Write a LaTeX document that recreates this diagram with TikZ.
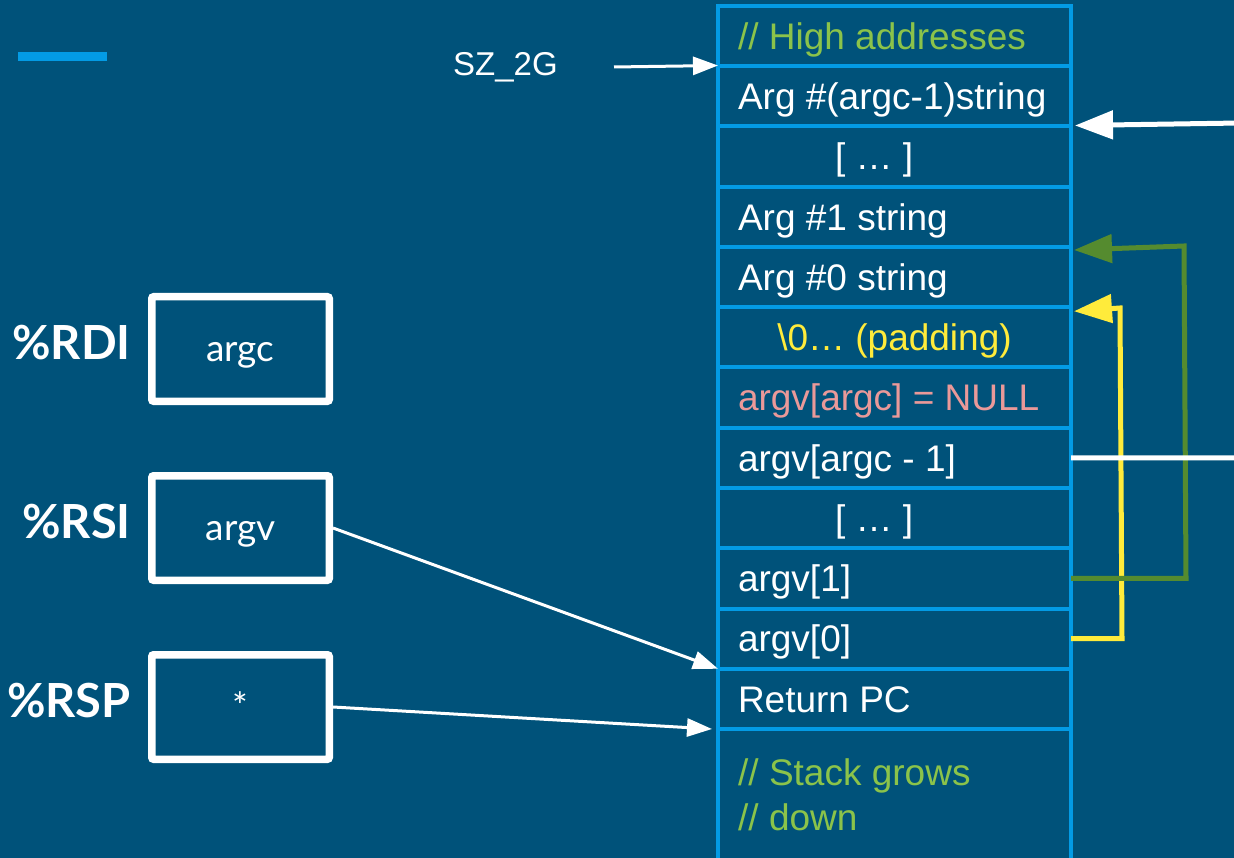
\documentclass[tikz,border=0pt]{standalone}
\usepackage{fontspec}
\setmainfont{Liberation Sans}
\newfontfamily\lato{Lato}
\usetikzlibrary{arrows.meta,positioning}

\definecolor{bgblue}{HTML}{00527A}
\definecolor{stackline}{HTML}{039BE5}
\definecolor{cmtgreen}{HTML}{8BC34A}
\definecolor{padyellow}{HTML}{FFEB3B}
\definecolor{nullpink}{HTML}{EA9999}
\definecolor{linkgreen}{HTML}{558B2F}

% fixed-width cell contents
\newcommand\cellL[1]{\makebox[313pt][l]{#1}}
\newcommand\cellC[1]{\makebox[313pt][c]{#1}}

\begin{document}
\begin{tikzpicture}[x=1pt,y=-1pt,
  cell/.style={draw=stackline, line width=4pt, minimum width=353pt,
    minimum height=60.25pt, inner xsep=20pt, inner ysep=0pt, outer sep=0pt,
    text height=34.5pt, text depth=8pt, text=white,
    font=\fontsize{37pt}{44pt}\selectfont},
  cmt/.style={text=cmtgreen, font=\fontsize{37pt}{44pt}\selectfont,
    anchor=base west, inner sep=0pt},
  reglabel/.style={text=white, font=\lato\bfseries\fontsize{47pt}{50pt}\selectfont,
    anchor=base east, inner sep=0pt},
  regbox/.style={draw=white, line width=7.5pt, rounded corners=2pt,
    minimum width=177.5pt, minimum height=104.5pt, inner sep=0pt,
    text=white, font=\lato\fontsize{37pt}{42pt}\selectfont,
    text height=37pt, text depth=12pt},
  thinarrow/.style={draw=white, line width=3pt,
    -{Triangle[length=25pt,width=18pt]}},
  thickarrow/.style={line width=5pt, -{Triangle[length=38pt,width=28pt]}},
  node distance=0pt
]
% canvas
\fill[bgblue] (0,0) rectangle (1234,858);
\useasboundingbox (0,0) rectangle (1234,858);

% title bar accent
\node[fill=stackline, minimum width=89pt, minimum height=9pt, inner sep=0pt]
  (accent) at (62.5,56.5) {};

% stack cells, from high to low addresses
\node[cell] (c0) at (894.5,36.125) {\cellL{\color{cmtgreen}// High addresses}};
\node[cell, below=of c0] (c1) {\cellL{Arg \#(argc-1)string}};
\node[cell, below=of c1] (c2) {\cellL{\hspace*{97pt}[ … ]}};
\node[cell, below=of c2] (c3) {\cellL{Arg \#1 string}};
\node[cell, below=of c3] (c4) {\cellL{Arg \#0 string}};
\node[cell, below=of c4] (c5) {\cellC{\color{padyellow}\textbackslash 0… (padding)}};
\node[cell, below=of c5] (c6) {\cellL{\color{nullpink}argv[argc] = NULL}};
\node[cell, below=of c6] (c7) {\cellL{argv[argc - 1]}};
\node[cell, below=of c7] (c8) {\cellL{\hspace*{97pt}[ … ]}};
\node[cell, below=of c8] (c9) {\cellL{argv[1]}};
\node[cell, below=of c9] (c10) {\cellL{argv[0]}};
\node[cell, below=of c10] (c11) {\cellL{Return PC}};
\node[cell, below=of c11, minimum height=180pt] (c12) {};
\node[cmt] (grow1) at (738,785) {// Stack grows};
\node[cmt] (grow2) at (738,830) {// down};

% SZ_2G marker
\node[text=white, font=\fontsize{33pt}{40pt}\selectfont, anchor=base west,
  inner sep=0pt] (sz) at (453,76) {SZ\_2G};
\coordinate (szfrom) at (614,67);
\draw[thinarrow] (szfrom) -- ([yshift=0.75]c1.north west);

% registers
\node[reglabel] (rdilbl) at (131,360) {\%RDI};
\node[reglabel] (rsilbl) at (131,538) {\%RSI};
\node[reglabel] (rsplbl) at (131,717) {\%RSP};
\node[regbox] (rdi) at (240.5,349) {argc};
\node[regbox] (rsi) at (240.5,528) {argv};
\node[regbox] (rsp) at (240.5,707) {*};

\draw[thinarrow] (rsi.east) -- (c11.north west);
\draw[thinarrow] (rsp.east) -- ([xshift=-6pt]c12.north west);

% argv[0] -> Arg #0 string
\coordinate (y1) at (1122,638.6);
\coordinate (y2) at (1120,308);
\draw[thickarrow, padyellow]
  (c10.east) -- (y1) -- (y2) -- ([shift={(3,4)}]c5.north east);

% argv[1] -> Arg #1 string
\coordinate (g1) at (1186,578.4);
\coordinate (g2) at (1184,246);
\draw[thickarrow, linkgreen]
  (c9.east) -- (g1) -- (g2) -- ([shift={(3,3)}]c4.north east);

% argv[argc-1] -> Arg #(argc-1) string (routed off to the right)
\coordinate (rout) at (1240,458);
\coordinate (rin) at (1240,123);
\draw[white, line width=5pt] (c7.east) -- (rout);
\draw[thickarrow, white] (rin) -- ([shift={(4,-1)}]c2.north east);
\end{tikzpicture}
\end{document}
